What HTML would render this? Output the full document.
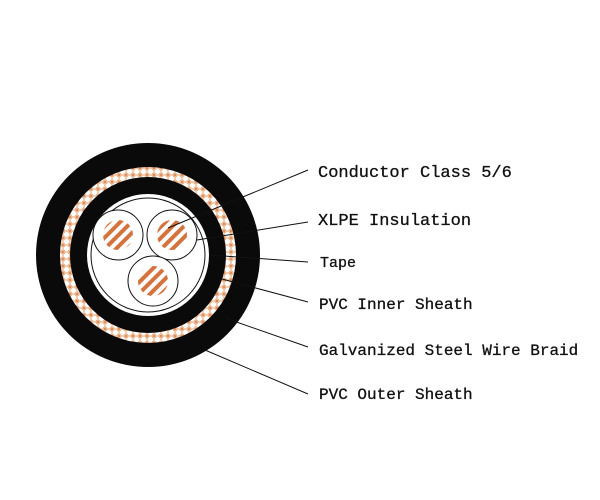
<!DOCTYPE html>
<html><head><meta charset="utf-8"><style>
html,body{margin:0;padding:0;background:#fff;width:600px;height:500px;overflow:hidden}
</style></head><body>
<svg width="600" height="500" viewBox="0 0 600 500" xmlns="http://www.w3.org/2000/svg">
<defs>
<pattern id="br" width="7" height="7" patternUnits="userSpaceOnUse">
<rect width="7" height="7" fill="#f3c9a8"/>
<circle cx="3.5" cy="3.5" r="2.6" fill="#fff"/>
<path d="M0 0L1.5 1.5M7 0L5.5 1.5M0 7L1.5 5.5M7 7L5.5 5.5" stroke="#d98a5a" stroke-width="1"/>
</pattern>
<pattern id="cu" width="8" height="8" patternUnits="userSpaceOnUse" patternTransform="rotate(-45)">
<rect width="8" height="8" fill="#fff"/>
<rect width="8" height="4" fill="#d4733e"/>
</pattern>
</defs>
<circle cx="148" cy="255" r="112" fill="#0a0a0a"/>
<circle cx="148" cy="255" r="88" fill="url(#br)"/>
<circle cx="148" cy="255" r="78" fill="#0a0a0a"/>
<circle cx="148" cy="255" r="61" fill="#fff"/>
<circle cx="148" cy="255" r="57" fill="none" stroke="#111" stroke-width="1"/>
<circle cx="118" cy="235" r="25" fill="#fff" stroke="#111"/>
<circle cx="172" cy="235" r="25" fill="#fff" stroke="#111"/>
<circle cx="153" cy="281" r="25" fill="#fff" stroke="#111"/>
<circle cx="118" cy="235" r="15" fill="url(#cu)"/>
<circle cx="172" cy="235" r="15" fill="url(#cu)"/>
<circle cx="153" cy="281" r="15" fill="url(#cu)"/>
<g stroke="#111" stroke-width="1" fill="none">
<line x1="308" y1="170" x2="168" y2="228"/>
<line x1="308" y1="222" x2="197" y2="240"/>
<line x1="308" y1="262" x2="210" y2="255"/>
<line x1="308" y1="302" x2="222" y2="279"/>
<line x1="308" y1="347" x2="225" y2="318"/>
<line x1="308" y1="394" x2="205" y2="350"/>
</g>
<g font-family="Liberation Mono, monospace" fill="#111" stroke="#111" stroke-width="0.3">
<text x="318" y="177" font-size="17">Conductor Class 5/6</text>
<text x="318" y="225" font-size="17">XLPE Insulation</text>
<text x="320" y="267" font-size="15">Tape</text>
<text x="319" y="309" font-size="16">PVC Inner Sheath</text>
<text x="319" y="355" font-size="16">Galvanized Steel Wire Braid</text>
<text x="319" y="399" font-size="16">PVC Outer Sheath</text>
</g>
</svg>
</body></html>
